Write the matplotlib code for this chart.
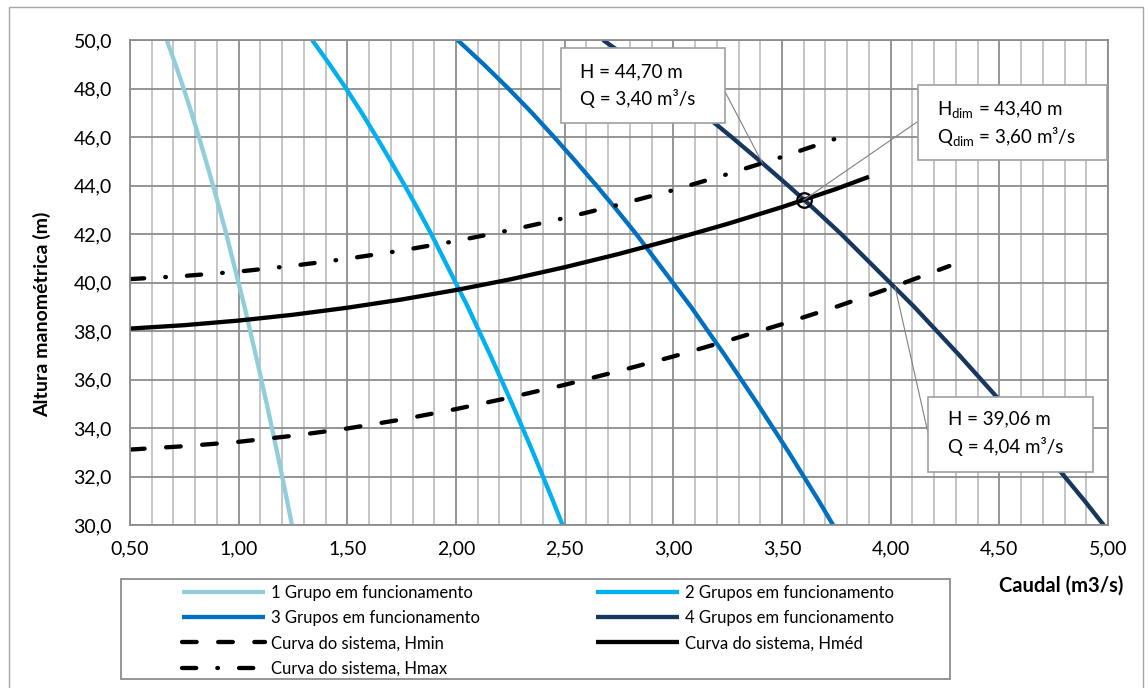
import matplotlib
matplotlib.use('Agg')
import matplotlib.pyplot as plt
from matplotlib.transforms import Affine2D
from matplotlib.patches import Rectangle

plt.rcParams['font.family'] = ['Lato', 'DejaVu Sans']
plt.rcParams['mathtext.fontset'] = 'custom'
plt.rcParams['mathtext.rm'] = 'Lato'
plt.rcParams['mathtext.it'] = 'Lato:italic'
plt.rcParams['mathtext.bf'] = 'Lato:bold'

# ---------------- data ----------------
H_pump = [50, 49, 48, 47, 46, 45, 44, 43, 42, 41, 40, 39, 38, 37, 36, 35, 34, 33, 32, 31, 30]
Q_1g = [0.669, 0.709, 0.747, 0.783, 0.817, 0.850, 0.882, 0.913, 0.943, 0.971, 0.999,
        1.027, 1.053, 1.079, 1.104, 1.129, 1.153, 1.177, 1.200, 1.223, 1.245]
Q_2g = [1.338, 1.418, 1.494, 1.566, 1.634, 1.700, 1.764, 1.826, 1.886, 1.942, 1.998,
        2.054, 2.106, 2.158, 2.208, 2.258, 2.306, 2.354, 2.400, 2.446, 2.490]
Q_3g = [2.007, 2.127, 2.241, 2.349, 2.451, 2.550, 2.646, 2.739, 2.829, 2.913, 2.997,
        3.081, 3.159, 3.237, 3.312, 3.387, 3.459, 3.531, 3.600, 3.669, 3.735]
Q_4g = [2.676, 2.836, 2.988, 3.132, 3.268, 3.400, 3.528, 3.652, 3.772, 3.884, 3.996,
        4.108, 4.212, 4.316, 4.416, 4.516, 4.612, 4.708, 4.800, 4.892, 4.980]

Q_hmin = [0.5, 0.75, 1.0, 1.25, 1.5, 1.75, 2.0, 2.25, 2.5, 2.75, 3.0, 3.25, 3.5, 3.75, 4.0, 4.27]
H_hmin = [33.11, 33.25, 33.43, 33.68, 33.98, 34.35, 34.78, 35.26, 35.78, 36.35, 36.95, 37.60, 38.28, 39.00, 39.78, 40.68]
Q_hmed = [0.5, 0.75, 1.0, 1.25, 1.5, 1.75, 2.0, 2.25, 2.5, 2.75, 3.0, 3.25, 3.5, 3.75, 3.9]
H_hmed = [38.10, 38.24, 38.43, 38.67, 38.96, 39.30, 39.69, 40.13, 40.63, 41.18, 41.78, 42.42, 43.11, 43.86, 44.36]
Q_hmax = [0.5, 0.75, 1.0, 1.25, 1.5, 1.75, 2.0, 2.25, 2.5, 2.75, 3.0, 3.25, 3.5, 3.77]
H_hmax = [40.14, 40.27, 40.45, 40.69, 40.98, 41.32, 41.71, 42.16, 42.66, 43.21, 43.81, 44.47, 45.18, 46.00]

design_Q = [3.60]
design_H = [43.40]

x_ticks = [0.5, 1.0, 1.5, 2.0, 2.5, 3.0, 3.5, 4.0, 4.5, 5.0]
x_labels = ['0,50', '1,00', '1,50', '2,00', '2,50', '3,00', '3,50', '4,00', '4,50', '5,00']
y_ticks = [30, 32, 34, 36, 38, 40, 42, 44, 46, 48, 50]
y_labels = ['30,0', '32,0', '34,0', '36,0', '38,0', '40,0', '42,0', '44,0', '46,0', '48,0', '50,0']

labels = ['1 Grupo em funcionamento', '2 Grupos em funcionamento',
          '3 Grupos em funcionamento', '4 Grupos em funcionamento',
          'Curva do sistema, Hmin', 'Curva do sistema, Hméd',
          'Curva do sistema, Hmax']

ann_text = [
    ['H = 44,70 m', 'Q = 3,40 m³/s'],
    ['H$_{\\mathregular{dim}}$ = 43,40 m', 'Q$_{\\mathregular{dim}}$ = 3,60 m³/s'],
    ['H = 39,06 m', 'Q = 4,04 m³/s'],
]
ann_anchor = [(3.41, 44.92), (3.60, 43.40), (4.02, 39.82)]

# ---------------- figure ----------------
W, HP = 1148, 688
fig = plt.figure(figsize=(W / 100, HP / 100), dpi=100)
pxT = Affine2D().scale(1 / W, -1 / HP).translate(0, 1) + fig.transFigure

fig.patches.append(Rectangle((9, 7), 1134, 720, transform=pxT, fill=False,
                             edgecolor='#A6A6A6', lw=1.0))

ax = fig.add_axes([130 / W, (HP - 525) / HP, 978 / W, 485 / HP])
ax.set_xlim(0.5, 5.0)
ax.set_ylim(30, 50)

ax.set_xticks(x_ticks)
ax.set_xticklabels(x_labels)
ax.set_xticks([0.5 + 0.1 * i for i in range(46)], minor=True)
ax.set_yticks(y_ticks)
ax.set_yticklabels(y_labels)
ax.grid(which='major', color='#8C8C8C', lw=1.3)
ax.grid(which='minor', axis='x', color='#C0C0C0', lw=1.3)
ax.set_axisbelow(True)
for s in ax.spines.values():
    s.set_color('#8C8C8C')
    s.set_linewidth(1.3)
ax.tick_params(which='both', length=0)
ax.tick_params(axis='y', pad=13, labelsize=14)
ax.tick_params(axis='x', pad=11, labelsize=14)

LW = 3.1
c1, c2, c3, c4 = '#92CDDC', '#00B0F0', '#0070C0', '#17375E'
l1, = ax.plot(Q_1g, H_pump, color=c1, lw=LW, solid_capstyle='butt')
l2, = ax.plot(Q_2g, H_pump, color=c2, lw=LW, solid_capstyle='butt')
l3, = ax.plot(Q_3g, H_pump, color=c3, lw=LW, solid_capstyle='butt')
l4, = ax.plot(Q_4g, H_pump, color=c4, lw=LW, solid_capstyle='butt')
lmin, = ax.plot(Q_hmin, H_hmin, color='black', lw=LW, ls=(0, (3.4, 5.0)),
                dash_capstyle='round')
lmed, = ax.plot(Q_hmed, H_hmed, color='black', lw=LW, solid_capstyle='butt')
lmax, = ax.plot(Q_hmax, H_hmax, color='black', lw=LW,
                ls=(0, (3.3, 4.9, 0.15, 4.9)), dash_capstyle='round')
ax.plot(design_Q, design_H, ls='none', marker='o', ms=10.5, mfc='none',
        mec='black', mew=1.6, zorder=5)

ax.set_ylabel('Altura manométrica (m)', fontsize=14, fontweight='bold')
ax.yaxis.set_label_coords((51 - 130) / 978, 1 - (314 - 40) / 485)
fig.text(1123 / W, 1 - 586 / HP, 'Caudal (m3/s)', fontsize=14.5,
         fontweight='bold', ha='right', va='center')

# annotation boxes
boxes = [(561, 48, 164, 75), (918, 85, 189, 75), (928, 397, 165, 75)]
text_left = [580, 937, 948]
line_y = [(72, 98), (110, 137), (419, 446)]
box_pts = [(722, 86), (917, 122), (928, 433)]
for i in range(3):
    bx, by, bw, bh = boxes[i]
    fig.patches.append(Rectangle((bx, by), bw, bh, transform=pxT,
                                 facecolor='white', edgecolor='#A0A0A0',
                                 lw=1.2, zorder=6))
    for j in range(2):
        fig.text(text_left[i], line_y[i][j], ann_text[i][j], transform=pxT,
                 fontsize=13.5, ha='left', va='center', zorder=7)
    ax.annotate('', xy=ann_anchor[i], xycoords='data', xytext=box_pts[i],
                textcoords=pxT,
                arrowprops=dict(arrowstyle='-', color='#808080', lw=0.8,
                                shrinkA=0, shrinkB=0), zorder=6)

# legend
fig.patches.append(Rectangle((121, 579), 829, 100, transform=pxT, fill=False,
                             edgecolor='#8C8C8C', lw=1.3))
leg_kw = dict(frameon=False, borderpad=0, borderaxespad=0, handlelength=5.0,
              handletextpad=0.35, labelspacing=0.55, fontsize=12)
legA = fig.legend([l1, l3, lmin, lmax], [labels[0], labels[2], labels[4], labels[6]],
                  loc='upper left', bbox_to_anchor=(182 / W, 1 - 585 / HP), **leg_kw)
legB = fig.legend([l2, l4, lmed], [labels[1], labels[3], labels[5]],
                  loc='upper left', bbox_to_anchor=(596 / W, 1 - 585 / HP), **leg_kw)

fig.savefig('out.png', dpi=100)
